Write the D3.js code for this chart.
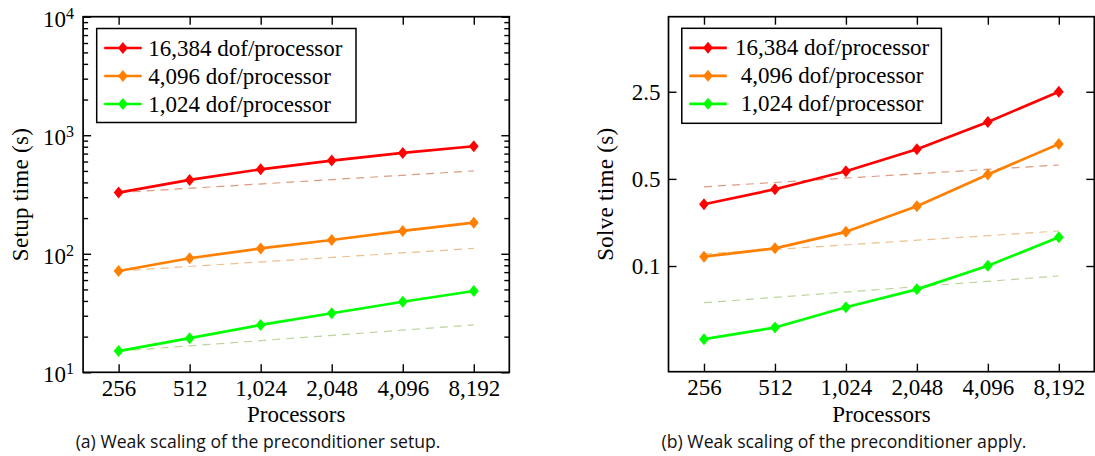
<!DOCTYPE html>
<html><head><meta charset="utf-8">
<script src="https://cdn.jsdelivr.net/npm/d3@7"></script>
<style>
html,body{margin:0;padding:0;background:#fff;}
svg{display:block;}
</style></head>
<body><svg id="chart" width="1095" height="456"></svg>
<script>
// ---- data ----
const processors = [256, 512, 1024, 2048, 4096, 8192];
const seriesNames = ["16,384 dof/processor", "4,096 dof/processor", "1,024 dof/processor"];
const seriesColors = ["#ff0000", "#ff8000", "#00ff00"];
const idealColors = ["#dc9a80", "#ebc08e", "#bcd59c"];

// preconditioner setup time (s)
const setupLarge  = [328, 420, 516, 611, 709, 807];
const setupMedium = [71.6, 91.6, 111, 130.7, 155.8, 183];
const setupSmall  = [15.1, 19.4, 25.1, 31.5, 39.4, 48.5];
// reference growth lines, values at 256 and 8,192 processors
const setupIdealLarge  = [328, 500];
const setupIdealMedium = [71.6, 111];
const setupIdealSmall  = [15.1, 25.1];

// preconditioner apply (solve) time (s)
const solveLarge  = [0.313, 0.413, 0.576, 0.864, 1.43, 2.5];
const solveMedium = [0.1188, 0.1386, 0.188, 0.302, 0.542, 0.953];
const solveSmall  = [0.0259, 0.0321, 0.0467, 0.065, 0.1005, 0.170];
const solveIdealLarge  = [0.432, 0.646];
const solveIdealMedium = [0.1246, 0.191];
const solveIdealSmall  = [0.0508, 0.0832];

const idealProcessors = [256, 8192];
const setupTicks = [10, 100, 1000, 10000];
const setupTickExponents = ["1", "2", "3", "4"];
const solveTicks = [0.1, 0.5, 2.5];
const solveTickLabels = ["0.1", "0.5", "2.5"];

// ---- drawing ----
const svg = d3.select("#chart");
svg.append("rect").attr("width", 1095).attr("height", 456).attr("fill", "#fff");

const SERIF = '"Liberation Serif", "Times New Roman", serif';
const SANS = '"Open Sans", "Noto Sans", sans-serif';
const FS = 23;

function serifText(sel, size) {
  return sel.style("font-family", SERIF).style("font-size", (size || FS) + "px").attr("fill", "#000");
}

function diamondPath(hw, hh) {
  return `M0,${-hh}L${hw},0L0,${hh}L${-hw},0Z`;
}
const marker = diamondPath(4.9, 6.0);

function drawPanel(cfg) {
  const g = svg.append("g");
  const x = d3.scaleLog().base(2)
    .domain([processors[0] / Math.SQRT2, processors[processors.length - 1] * Math.SQRT2])
    .range([cfg.left, cfg.right]);
  const y = d3.scaleLog().domain(cfg.yDomain).range([cfg.bottom, cfg.top]);

  // reference (ideal) dashed lines
  cfg.ideal.forEach((vals, i) => {
    const line = d3.line().x((d, j) => x(idealProcessors[j])).y(d => y(d));
    g.append("path").datum(vals).attr("d", line)
      .attr("fill", "none").attr("stroke", idealColors[i])
      .attr("stroke-width", 1.2).attr("stroke-dasharray", "8,6");
  });

  // measured series
  cfg.series.forEach((vals, i) => {
    const line = d3.line().x((d, j) => x(processors[j])).y(d => y(d));
    g.append("path").datum(vals).attr("d", line)
      .attr("fill", "none").attr("stroke", seriesColors[i])
      .attr("stroke-width", 2.7).attr("stroke-linejoin", "round");
    g.selectAll(null).data(vals).enter().append("path")
      .attr("d", marker)
      .attr("transform", (d, j) => `translate(${x(processors[j])},${y(d)})`)
      .attr("fill", seriesColors[i]);
  });

  function styleAxis(ax) {
    ax.attr("font-family", null).attr("font-size", null);
    ax.select(".domain").remove();
    ax.selectAll("line").attr("stroke", "#000").attr("stroke-width", 1.4);
    serifText(ax.selectAll("text"));
  }

  // x axes (inward ticks on top and bottom)
  const xb = g.append("g").attr("transform", `translate(0,${cfg.bottom})`)
    .call(d3.axisBottom(x).tickValues(processors).tickSize(-8).tickPadding(7)
      .tickFormat(d3.format(",")));
  styleAxis(xb);
  const xt = g.append("g").attr("transform", `translate(0,${cfg.top})`)
    .call(d3.axisTop(x).tickValues(processors).tickSize(-8).tickFormat(""));
  styleAxis(xt);

  // y axes
  const yl = g.append("g").attr("transform", `translate(${cfg.left},0)`)
    .call(d3.axisLeft(y).tickValues(cfg.yTicks).tickSize(-8).tickPadding(cfg.labelGap)
      .tickFormat((d, i) => cfg.yLabels[i]));
  styleAxis(yl);
  const yr = g.append("g").attr("transform", `translate(${cfg.right},0)`)
    .call(d3.axisRight(y).tickValues(cfg.yTicks).tickSize(-8).tickFormat(""));
  styleAxis(yr);
  if (cfg.superscript) {
    yl.selectAll(".tick text").each(function (d, i) {
      const t = d3.select(this);
      t.text("10").attr("dy", "0.42em");
      t.append("tspan").attr("dy", "-0.5em").style("font-size", "16px").text(cfg.yLabels[i]);
    });
  }
  if (cfg.minor) {
    const ml = g.append("g").attr("transform", `translate(${cfg.left},0)`)
      .call(d3.axisLeft(y).tickValues(cfg.minor).tickSize(-5).tickFormat(""));
    styleAxis(ml);
    const mr = g.append("g").attr("transform", `translate(${cfg.right},0)`)
      .call(d3.axisRight(y).tickValues(cfg.minor).tickSize(-5).tickFormat(""));
    styleAxis(mr);
  }

  // frame
  g.append("rect").attr("x", cfg.left).attr("y", cfg.top)
    .attr("width", cfg.right - cfg.left).attr("height", cfg.bottom - cfg.top)
    .attr("fill", "none").attr("stroke", "#000").attr("stroke-width", 1.7);

  // axis titles
  serifText(g.append("text")).attr("x", (cfg.left + cfg.right) / 2).attr("y", 421.5)
    .attr("text-anchor", "middle").text("Processors");
  serifText(g.append("text"))
    .attr("transform", `translate(${cfg.yTitleX},${(cfg.top + cfg.bottom) / 2}) rotate(-90)`)
    .attr("text-anchor", "middle").style("letter-spacing", "0.3px").text(cfg.yTitle);

  // legend
  const L = cfg.legend;
  const lg = g.append("g");
  lg.append("rect").attr("x", L.x0).attr("y", L.y0).attr("width", L.x1 - L.x0)
    .attr("height", L.y1 - L.y0).attr("fill", "#fff").attr("stroke", "#000").attr("stroke-width", 1.5);
  seriesNames.forEach((name, i) => {
    const ry = L.y0 + 19.5 + i * 28;
    lg.append("line").attr("x1", L.x0 + 7.5).attr("x2", L.x0 + 45).attr("y1", ry).attr("y2", ry)
      .attr("stroke", seriesColors[i]).attr("stroke-width", 2.7);
    lg.append("path").attr("d", marker).attr("transform", `translate(${L.x0 + 26.2},${ry})`)
      .attr("fill", seriesColors[i]);
    serifText(lg.append("text")).attr("x", L.textX).attr("y", ry + 7.5)
      .attr("text-anchor", L.anchor).text(name);
  });

  // caption
  const cap = g.append("text").attr("x", cfg.captionX).attr("y", 448)
    .attr("text-anchor", "middle").style("font-family", SANS)
    .style("font-size", "18px").attr("fill", "#111").text(cfg.caption);
  const w = cap.node().getComputedTextLength();
  cap.style("font-size", (18 * 365 / w) + "px");
}

const minorSetup = [];
[10, 100, 1000].forEach(b => { for (let k = 2; k <= 9; k++) minorSetup.push(b * k); });

drawPanel({
  left: 83.1, right: 509.3, top: 16.7, bottom: 372.3,
  yDomain: [10, 10000],
  series: [setupLarge, setupMedium, setupSmall],
  ideal: [setupIdealLarge, setupIdealMedium, setupIdealSmall],
  yTicks: setupTicks, yLabels: setupTickExponents, superscript: true, labelGap: 9,
  minor: minorSetup,
  yTitle: "Setup time (s)", yTitleX: 28,
  legend: { x0: 96.7, x1: 356, y0: 28.5, y1: 122.5, textX: 148.3, anchor: "start" },
  caption: "(a) Weak scaling of the preconditioner setup.", captionX: 258
});

drawPanel({
  left: 668.5, right: 1094.3, top: 16.7, bottom: 371.7,
  yDomain: [0.0142, 10],
  series: [solveLarge, solveMedium, solveSmall],
  ideal: [solveIdealLarge, solveIdealMedium, solveIdealSmall],
  yTicks: solveTicks, yLabels: solveTickLabels, superscript: false, labelGap: 8,
  minor: null,
  yTitle: "Solve time (s)", yTitleX: 613,
  legend: { x0: 681.8, x1: 941.4, y0: 28.3, y1: 123.3, textX: 832.2, anchor: "middle" },
  caption: "(b) Weak scaling of the preconditioner apply.", captionX: 844
});
</script>
</body></html>
